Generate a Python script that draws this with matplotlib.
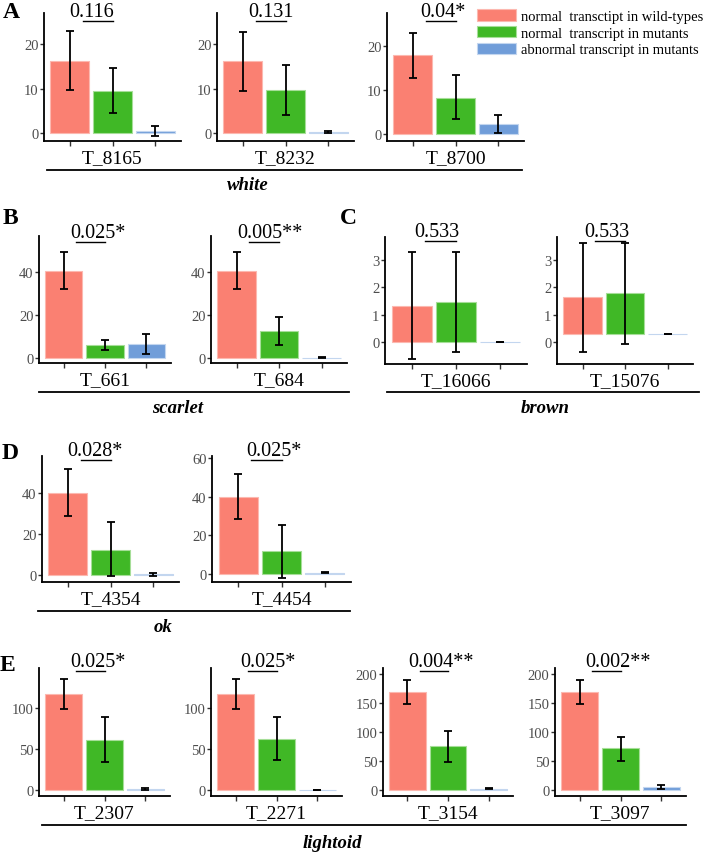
import matplotlib
matplotlib.use("Agg")
import matplotlib.pyplot as plt
import matplotlib.patches as pat
import matplotlib.lines as mlines
from matplotlib.ticker import MultipleLocator

plt.rcParams['font.family'] = ['Liberation Serif', 'DejaVu Serif']

# one entry per transcript panel
genes = ["T_8165", "T_8232", "T_8700", "T_661", "T_684", "T_16066", "T_15076",
         "T_4354", "T_4454", "T_2307", "T_2271", "T_3154", "T_3097"]
pvals = ["0.116", "0.131", "0.04*", "0.025*", "0.005**", "0.533", "0.533",
         "0.028*", "0.025*", "0.025*", "0.025*", "0.004**", "0.002**"]

# normal transcript in wild-types
wt_mean = [16.3, 16.1, 17.8, 40.6, 40.6, 1.31, 1.63, 40.0, 40.0, 117, 117, 169, 169]
wt_lo = [9.7, 9.4, 12.6, 32.1, 32.1, -0.62, -0.35, 28.8, 28.7, 99, 99, 148, 148]
wt_hi = [22.9, 22.8, 22.9, 49.2, 49.2, 3.3, 3.61, 51.7, 51.6, 135, 135, 190, 190]

# normal transcript in mutants
mut_mean = [9.4, 9.6, 8.1, 6.2, 12.4, 1.45, 1.78, 12.2, 11.8, 61, 62, 75, 71.5]
mut_lo = [4.5, 4.0, 3.3, 3.9, 6.2, -0.35, -0.07, -0.7, -2.0, 34, 36, 49, 50.5]
mut_hi = [14.6, 15.2, 13.3, 8.5, 19.2, 3.3, 3.61, 26.0, 25.6, 89, 89, 101, 92]

# abnormal transcript in mutants
abn_mean = [0.45, 0.2, 2.25, 6.5, 0.1, 0.0, 0.29, 0.3, 0.8, 1.5, 0.0, 2.0, 4.5]
abn_lo = [-0.7, 0.0, 0.2, 1.9, -0.2, 0.0, 0.29, -0.3, 0.5, 0.5, 0.0, 1.0, 1.0]
abn_hi = [1.6, 0.5, 4.3, 11.2, 0.3, 0.0, 0.29, 0.9, 1.1, 2.5, 0.0, 3.0, 9.0]

# bar baseline (T_15076 panel is drawn shifted up)
base = [0, 0, 0, 0, 0, 0, 0.29, 0, 0, 0, 0, 0, 0]

groups = ["white", "scarlet", "brown", "ok", "lightoid"]
letters = ["A", "B", "C", "D", "E"]

series_names = ["normal  transctipt in wild-types", "normal  transcript in mutants",
                "abnormal transcript in mutants"]
series_colors = ["#FA8072", "#40B826", "#709DD9"]
edge_colors = ["#FCB8B0", "#A6DE98", "#C3D6EF"]

W, H = 709, 853
fig = plt.figure(figsize=(W / 100, H / 100), dpi=100)

# panel boxes in pixels: left, right, top, bottom
boxes = [(44, 181, 14, 142), (217, 354, 14, 142), (387, 524, 14, 142),
         (39, 171, 237, 364), (211, 347, 237, 364),
         (385, 527, 238, 365), (557, 693, 238, 365),
         (42, 179, 457, 583), (212, 351, 457, 583),
         (39, 170, 669, 797), (211, 342, 669, 797), (383, 513, 669, 797), (555, 686, 669, 797)]
ylims = [(-1.8, 27.0), (-1.8, 27.0), (-1.6, 27.4),
         (-2.3, 56.7), (-2.3, 56.7),
         (-0.8, 3.83), (-0.8, 3.83),
         (-3.4, 58), (-4.1, 61),
         (-7.3, 148.8), (-7.3, 148.8), (-10.4, 210), (-10.4, 210)]
ysteps = [10, 10, 10, 20, 20, 1, 1, 20, 20, 50, 50, 50, 50]
bracket_gap = [8, 8, 8, 6, 6, 4, 4, 4, 4, 3, 3, 3, 3]
# left edge of the p-value text, in bar positions
ptext_x = [1.0, 1.12, 1.17, 1.15, 1.01, 1.05, 1.04, 1.0, 1.2, 1.16, 1.11, 1.02, 1.13]


def px_axes(l, r, t, b):
    return fig.add_axes([l / W, 1 - b / H, (r - l) / W, (b - t) / H])


def fig_line(x0, x1, y):
    fig.add_artist(mlines.Line2D([x0 / W, x1 / W], [1 - y / H, 1 - y / H],
                                 transform=fig.transFigure, color="black", lw=1.3))


for i in range(len(genes)):
    l, r, t, b = boxes[i]
    ax = px_axes(l, r, t, b)
    x = [1, 2, 3]
    means = [wt_mean[i], mut_mean[i], abn_mean[i]]
    los = [wt_lo[i], mut_lo[i], abn_lo[i]]
    his = [wt_hi[i], mut_hi[i], abn_hi[i]]
    heights = [m - base[i] for m in means]
    ax.bar(x, heights, width=0.9, bottom=base[i], color=series_colors,
           edgecolor=edge_colors, linewidth=0.8, zorder=2)
    yerr = [[m - lo for m, lo in zip(means, los)], [hi - m for m, hi in zip(means, his)]]
    ax.errorbar(x, means, yerr=yerr, fmt='none', ecolor='black', elinewidth=1.3,
                capsize=3, capthick=1.3, zorder=3)
    ax.set_xlim(0.4, 3.6)
    ax.set_ylim(ylims[i])
    ax.yaxis.set_major_locator(MultipleLocator(ysteps[i]))
    ax.set_xticks(x)
    ax.set_xticklabels(["", genes[i], ""])
    for s in ["top", "right"]:
        ax.spines[s].set_visible(False)
    for s in ["left", "bottom"]:
        ax.spines[s].set_linewidth(1.3)
        ax.spines[s].set_color("black")
    ax.tick_params(axis='y', length=3, width=1, color='#333333', pad=1,
                   labelsize=10.5, labelcolor='#4D4D4D')
    ax.tick_params(axis='x', length=3.5, width=1, color='#333333', pad=2,
                   labelsize=14, labelcolor='black')

    # p-value bracket
    hpx = b - t
    yline = 1 - bracket_gap[i] / hpx
    tr = ax.get_xaxis_transform()
    ax.plot([1.3, 2.0], [yline, yline], color='black', lw=1, transform=tr, clip_on=False)
    ax.text(ptext_x[i], yline + 5 / hpx, pvals[i], transform=tr, ha='left', va='baseline',
            fontsize=14.5, color='black', clip_on=False)

# group lines and labels
group_lines = [(47, 522, 171), (39, 349, 393), (387, 699, 393), (38, 350, 612), (42, 686, 826)]
group_label_pos = [(248, 186), (178, 409), (545, 409), (163, 628), (332, 844)]
for g, (x0, x1, y), (tx, ty) in zip(groups, group_lines, group_label_pos):
    fig_line(x0, x1, y)
    fig.text(tx / W, 1 - ty / H, g, ha='center', va='center', fontsize=13.5,
             fontweight='bold', fontstyle='italic')

letter_pos = [(3, 12), (3, 218), (340, 218), (2, 454), (0, 666)]
for lt, (lx, ly) in zip(letters, letter_pos):
    fig.text(lx / W, 1 - ly / H, lt, ha='left', va='center', fontsize=17, fontweight='bold')

handles = [pat.Patch(facecolor=c, edgecolor=ec, linewidth=0.8)
           for c, ec in zip(series_colors, edge_colors)]
fig.legend(handles=handles, labels=series_names, loc='upper left',
           bbox_to_anchor=(477 / W, 1 - 10 / H), frameon=False, fontsize=10.5,
           handlelength=2.7, handleheight=0.85, handletextpad=0.35,
           labelspacing=0.2, borderaxespad=0, borderpad=0)

plt.savefig("out.png", dpi=100)
